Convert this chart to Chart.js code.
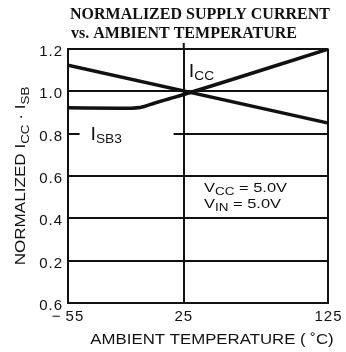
<!DOCTYPE html>
<html>
<head>
<meta charset="utf-8">
<script src="https://cdn.jsdelivr.net/npm/chart.js@4.4.0/dist/chart.umd.min.js"></script>
<style>
  html, body { margin: 0; padding: 0; background: #fff; }
</style>
</head>
<body>
<canvas id="myChart" width="346" height="352"></canvas>
<script>
// temperatura ambiente (°C) y corriente normalizada
var tempIcc = [-55, 125];
var icc = [1.124, 0.85];
var tempIsb3 = [-55, -20, -5, 5, 15, 25, 125];
var isb3 = [0.922, 0.92, 0.924, 0.945, 0.965, 0.985, 1.2];

var xTicks = [-55, 25, 125];
var xTickLabels = ['\u2212\u200955', '25', '125'];
var yTicks = [0, 0.2, 0.4, 0.6, 0.8, 1.0, 1.2];
var yTickLabels = ['0.6', '0.2', '0.4', '0.6', '0.8', '1.0', '1.2'];

var INK = '#111';
var SANS = '"Liberation Sans", Arial, sans-serif';

function puntos(xs, ys) {
  return xs.map(function (x, i) { return { x: x, y: ys[i] }; });
}

// texto ensanchado con subindices: partes = [[texto, esSub], ...]
// e = { size, sub, dy, sx }
function escribir(ctx, partes, x, y, e, medir) {
  var cx = 0;
  ctx.save();
  ctx.translate(x, y);
  ctx.scale(e.sx, 1);
  partes.forEach(function (p) {
    ctx.font = (p[1] ? e.sub : e.size) + 'px ' + SANS;
    if (!medir) ctx.fillText(p[0], cx, p[1] ? e.dy : 0);
    cx += ctx.measureText(p[0]).width;
  });
  ctx.restore();
  return cx * e.sx;
}

var textos = {
  id: 'textos',
  beforeDraw: function (chart) {
    // letras algo mas espaciadas en las etiquetas de los ejes
    chart.ctx.letterSpacing = '1px';
  },
  beforeDatasetsDraw: function (chart) {
    // hueco en la linea de 0.8 para la etiqueta I_SB3
    var ctx = chart.ctx, xs = chart.scales.x, ys = chart.scales.y;
    var yy = ys.getPixelForValue(0.8);
    ctx.save();
    ctx.fillStyle = '#fff';
    ctx.fillRect(xs.getPixelForValue(-47), yy - 3, xs.getPixelForValue(18) - xs.getPixelForValue(-47), 6);
    ctx.restore();
  },
  afterDraw: function (chart) {
    var ctx = chart.ctx, xs = chart.scales.x, ys = chart.scales.y;
    var area = chart.chartArea;
    ctx.save();
    ctx.fillStyle = INK;
    ctx.strokeStyle = INK;
    ctx.textBaseline = 'alphabetic';
    ctx.textAlign = 'left';
    ctx.letterSpacing = '0px';

    // marca corta sobre el borde superior en 25 °C
    ctx.lineWidth = 2;
    ctx.beginPath();
    ctx.moveTo(xs.getPixelForValue(25), area.top);
    ctx.lineTo(xs.getPixelForValue(25), area.top - 6);
    ctx.stroke();

    // titulo
    ctx.font = 'bold 16px "Liberation Serif", "Times New Roman", serif';
    ctx.fillText('NORMALIZED SUPPLY CURRENT', 70, 19);
    ctx.fillText('vs. AMBIENT TEMPERATURE', 71, 38);

    // titulo eje x
    var ejeX = { size: 14, sub: 14, dy: 0, sx: 1.2 };
    var partesX = [['AMBIENT TEMPERATURE ( \u02DAC)', false]];
    var wx = escribir(ctx, partesX, 0, 0, ejeX, true);
    escribir(ctx, partesX, 212 - wx / 2, 344, ejeX);

    // titulo eje y (rotado)
    var ejeY = { size: 14, sub: 11, dy: 4, sx: 1.22 };
    var partesY = [['NORMALIZED I', false], ['CC', true], [' \u00B7 I', false], ['SB', true]];
    var wy = escribir(ctx, partesY, 0, 0, ejeY, true);
    ctx.save();
    ctx.translate(25, 176);
    ctx.rotate(-Math.PI / 2);
    escribir(ctx, partesY, -wy / 2, 0, ejeY);
    ctx.restore();

    // etiquetas de las curvas
    var etq = { size: 18, sub: 12.5, dy: 3, sx: 1.1 };
    escribir(ctx, [['I', false], ['CC', true]], xs.getPixelForValue(28.5), ys.getPixelForValue(1.07), etq);
    escribir(ctx, [['I', false], ['SB3', true]], xs.getPixelForValue(-39.5), ys.getPixelForValue(0.77), etq);

    // condiciones
    var cond = { size: 13.5, sub: 11, dy: 3, sx: 1.22 };
    escribir(ctx, [['V', false], ['CC', true], [' = 5.0V', false]], xs.getPixelForValue(39), ys.getPixelForValue(0.525), cond);
    escribir(ctx, [['V', false], ['IN', true], [' = 5.0V', false]], xs.getPixelForValue(39), ys.getPixelForValue(0.448), cond);
    ctx.restore();
  }
};

var ctx = document.getElementById('myChart').getContext('2d');

var data = {
  datasets: [
    {
      label: 'ICC',
      data: puntos(tempIcc, icc),
      borderColor: INK,
      borderWidth: 3.5,
      pointRadius: 0
    },
    {
      label: 'ISB3',
      data: puntos(tempIsb3, isb3),
      borderColor: INK,
      borderWidth: 3.5,
      pointRadius: 0,
      cubicInterpolationMode: 'monotone'
    }
  ]
};

var myChart = new Chart(ctx, {
  type: 'line',
  data: data,
  options: {
    responsive: false,
    animation: false,
    layout: { padding: { top: 49, right: 14, left: 0, bottom: 0 } },
    plugins: {
      legend: { display: false },
      tooltip: { enabled: false }
    },
    scales: {
      x: {
        type: 'linear',
        min: -55,
        max: 125,
        afterBuildTicks: function (scale) {
          scale.ticks = xTicks.map(function (v) { return { value: v }; });
        },
        afterFit: function (scale) { scale.height = 49; },
        grid: { color: INK, lineWidth: 2, drawTicks: false },
        border: { color: INK, width: 2 },
        ticks: {
          color: INK,
          font: { family: SANS, size: 15 },
          padding: 5,
          maxRotation: 0,
          callback: function (v) { return xTickLabels[xTicks.indexOf(v)]; }
        }
      },
      y: {
        min: 0,
        max: 1.2,
        afterBuildTicks: function (scale) {
          scale.ticks = yTicks.map(function (v) { return { value: v }; });
        },
        afterFit: function (scale) { scale.width = 68; },
        grid: { color: INK, lineWidth: 2, drawTicks: false },
        border: { color: INK, width: 2 },
        ticks: {
          color: INK,
          font: { family: SANS, size: 15 },
          padding: 5,
          labelOffset: 3,
          callback: function (v, i) { return yTickLabels[i]; }
        }
      }
    }
  },
  plugins: [textos]
});
</script>
</body>
</html>
